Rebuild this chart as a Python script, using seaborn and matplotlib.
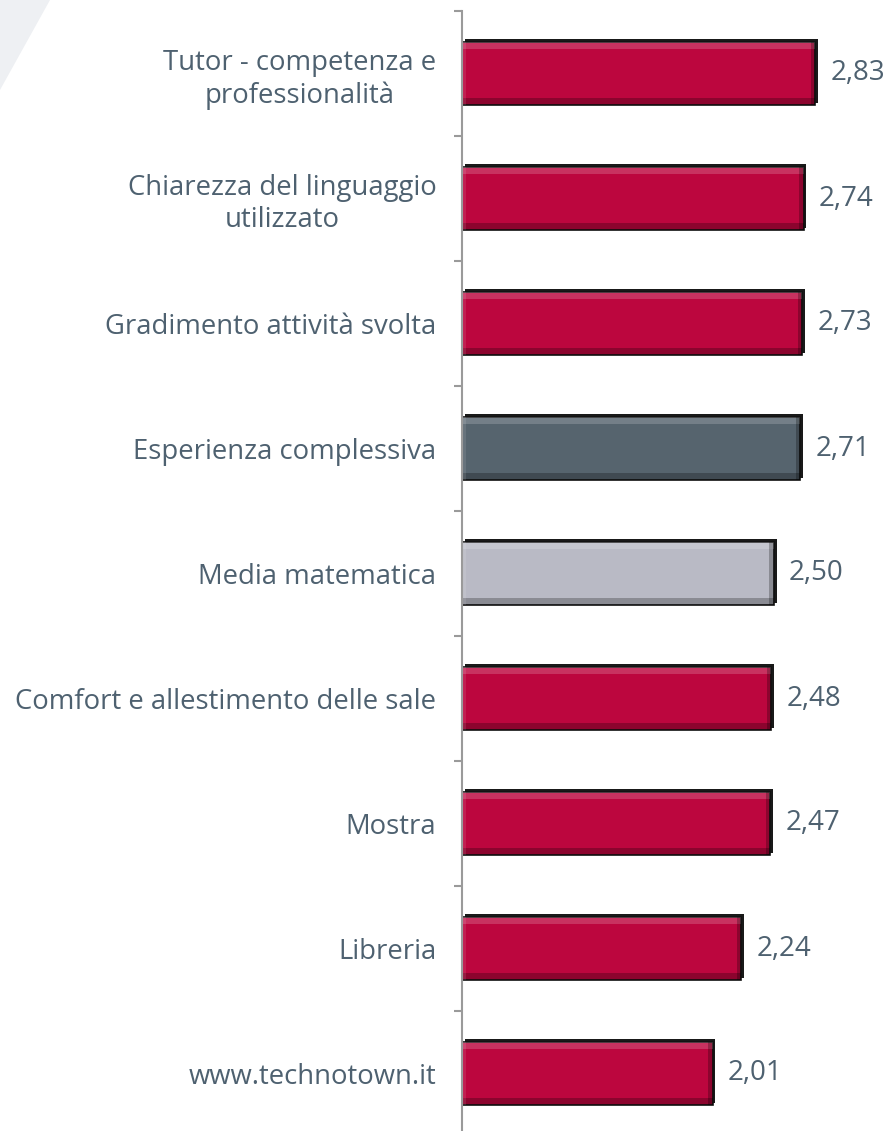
import numpy as np
import pandas as pd
import matplotlib
matplotlib.use("Agg")
import matplotlib.pyplot as plt
import matplotlib.patheffects as pe
from matplotlib.patches import Rectangle, Polygon
import seaborn as sns

# --------------------------------------------------
# DATA
# --------------------------------------------------
categories = [
    "Tutor - competenza e\nprofessionalità",
    "Chiarezza del linguaggio\nutilizzato",
    "Gradimento attività svolta",
    "Esperienza complessiva",
    "Media matematica",
    "Comfort e allestimento delle sale",
    "Mostra",
    "Libreria",
    "www.technotown.it",
]
scores = [2.83, 2.74, 2.73, 2.71, 2.50, 2.48, 2.47, 2.24, 2.01]
value_labels = ["2,83", "2,74", "2,73", "2,71", "2,50", "2,48", "2,47", "2,24", "2,01"]

RED = "#BC063E"
SLATE = "#56646E"
SILVER = "#B9BAC5"
TEXT = "#4E6170"
palette = {c: RED for c in categories}
palette["Esperienza complessiva"] = SLATE
palette["Media matematica"] = SILVER

# --------------------------------------------------
# THEME
# --------------------------------------------------
sns.set_theme(style="white")
plt.rcParams["font.family"] = ["Open Sans", "DejaVu Sans"]

W, H = 888, 1131
fig = plt.figure(figsize=(W / 100, H / 100), dpi=100)
fig.patch.set_facecolor("white")

# faint diagonal decoration in the corner
fig.patches.append(Polygon([(0, 1), (50 / W, 1), (0, 1 - 90 / H)], closed=True,
                           transform=fig.transFigure, facecolor="#EEF0F3",
                           edgecolor="none", zorder=0))

ax = fig.add_axes([462 / W, -5 / H, (886 - 462) / W, 1125 / H])
ax.set_facecolor("none")

df = pd.DataFrame({"item": categories, "score": scores})
sns.barplot(data=df, y="item", x="score", hue="item", palette=palette,
            order=categories, hue_order=categories, legend=False,
            width=0.51, saturation=1, ax=ax, edgecolor="#111111", linewidth=1.2)

ax.set_xlim(0, 3.4)
ax.set_ylim(len(categories) - 0.5, -0.5)

# bevel / shadow look
for patch in list(ax.patches):
    patch.set_path_effects([pe.SimplePatchShadow(offset=(2, 2), shadow_rgbFace="black", alpha=0.9),
                            pe.Normal()])
    x0, y0 = patch.get_x(), patch.get_y()
    w, h = patch.get_width(), patch.get_height()
    bw = 0.035
    bh = h * 0.12
    z = patch.get_zorder() + 0.1
    ax.add_patch(Rectangle((x0, y0), w, bh, facecolor="white", alpha=0.18, edgecolor="none", zorder=z))
    ax.add_patch(Rectangle((x0, y0 + h - bh), w, bh, facecolor="black", alpha=0.25, edgecolor="none", zorder=z))
    ax.add_patch(Rectangle((x0, y0), bw, h, facecolor="white", alpha=0.10, edgecolor="none", zorder=z))
    ax.add_patch(Rectangle((x0 + w - bw, y0), bw, h, facecolor="black", alpha=0.25, edgecolor="none", zorder=z))

for cont, lab in zip(ax.containers, value_labels):
    ax.bar_label(cont, labels=[lab], padding=11, fontsize=20, color=TEXT)

# axes styling
for s in ["top", "right", "bottom"]:
    ax.spines[s].set_visible(False)
ax.spines["left"].set_color("#9A9A9A")
ax.spines["left"].set_linewidth(1.5)
ax.set_xticks([])
ax.set_xlabel("")
ax.set_ylabel("")
ax.set_yticks(np.arange(len(categories) + 1) - 0.5, minor=True)
ax.set_yticks(np.arange(len(categories)))
ax.set_yticklabels(categories)
ax.tick_params(axis="y", which="major", length=0, pad=18.5, labelsize=19.8, labelcolor=TEXT)
ax.tick_params(axis="y", which="minor", length=6, width=1.5, color="#9A9A9A", left=True)
for lab in ax.get_yticklabels():
    lab.set_multialignment("center")
    lab.set_linespacing(1.2)

fig.savefig("out.png", dpi=100, facecolor="white")
